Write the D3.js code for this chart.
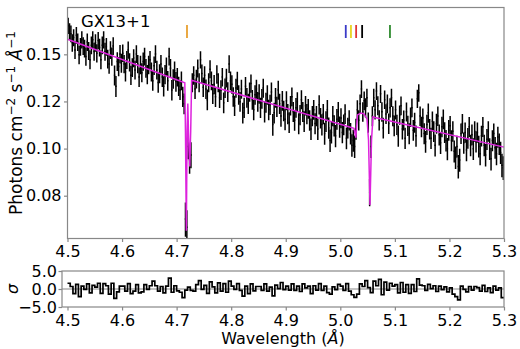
<!DOCTYPE html>
<html>
<head>
<meta charset="utf-8">
<script src="https://cdn.jsdelivr.net/npm/d3@7"></script>
<style>
    body { margin: 0; background: #fff; }
    svg { display: block; font-family: "DejaVu Sans", sans-serif; }
    .frame { fill: none; stroke: #888; stroke-width: 1.2; }
    .axis text { font-size: 16px; fill: #000; font-family: "DejaVu Sans", sans-serif; }
    .axis line { stroke: #888; stroke-width: 1.2; }
    .axis path { display: none; }
</style>
</head>
<body>
<div id="chart"></div>
<script>
/* DATA */
// spectrum bins start at 4.5 A, 0.0025 A wide
const binStart = 4.5
const binWidth = 0.0025
const flux = [
    0.1640, 0.1600, 0.1585, 0.1525, 0.1560, 0.1480, 0.1575, 0.1530, 0.1450, 0.1500,
    0.1545, 0.1505, 0.1490, 0.1440, 0.1530, 0.1475, 0.1420, 0.1510, 0.1545, 0.1470,
    0.1525, 0.1460, 0.1540, 0.1495, 0.1420, 0.1510, 0.1545, 0.1470, 0.1500, 0.1425,
    0.1395, 0.1480, 0.1440, 0.1505, 0.1330, 0.1270, 0.1410, 0.1380, 0.1455, 0.1400,
    0.1460, 0.1395, 0.1350, 0.1420, 0.1480, 0.1405, 0.1330, 0.1375, 0.1430, 0.1360,
    0.1455, 0.1395, 0.1320, 0.1390, 0.1345, 0.1410, 0.1440, 0.1370, 0.1335, 0.1390,
    0.1420, 0.1350, 0.1300, 0.1385, 0.1455, 0.1360, 0.1290, 0.1340, 0.1395, 0.1320,
    0.1270, 0.1335, 0.1380, 0.1300, 0.1440, 0.1370, 0.1250, 0.1310, 0.1355, 0.1295,
    0.1320, 0.1270, 0.1250, 0.1300, 0.1215, 0.1180, 0.0725, 0.0700, 0.0985, 0.0930,
    0.0950, 0.1290, 0.1330, 0.1255, 0.1310, 0.1370, 0.1290, 0.1420, 0.1340, 0.1265,
    0.1330, 0.1255, 0.1200, 0.1290, 0.1365, 0.1300, 0.1230, 0.1280, 0.1215, 0.1335,
    0.1290, 0.1210, 0.1250, 0.1320, 0.1185, 0.1260, 0.1315, 0.1240, 0.1395, 0.1300,
    0.1280, 0.1215, 0.1170, 0.1260, 0.1300, 0.1225, 0.1190, 0.1255, 0.1135, 0.1160,
    0.1270, 0.1210, 0.1180, 0.1240, 0.1285, 0.1200, 0.1150, 0.1225, 0.1255, 0.1190,
    0.1230, 0.1160, 0.1205, 0.1260, 0.1140, 0.1185, 0.1225, 0.1150, 0.1175, 0.1240,
    0.1080, 0.1135, 0.1210, 0.1165, 0.1250, 0.1180, 0.1120, 0.1195, 0.1145, 0.1105,
    0.1195, 0.1130, 0.1090, 0.1170, 0.1215, 0.1140, 0.1100, 0.1160, 0.1190, 0.1085,
    0.1125, 0.1200, 0.1140, 0.1095, 0.1170, 0.1130, 0.1155, 0.1100, 0.1060, 0.1120,
    0.1150, 0.1085, 0.1120, 0.1060, 0.1175, 0.1110, 0.1080, 0.1130, 0.1040, 0.1095,
    0.1150, 0.1065, 0.1010, 0.1045, 0.1120, 0.1075, 0.1030, 0.1105, 0.1140, 0.1070,
    0.1110, 0.1045, 0.1080, 0.1130, 0.1020, 0.1065, 0.1100, 0.1040, 0.0990, 0.1010,
    0.0985, 0.1060, 0.1150, 0.1100, 0.1180, 0.1255, 0.1140, 0.1195, 0.1160, 0.1210,
    0.1090, 0.0812, 0.0985, 0.1120, 0.1210, 0.1150, 0.1245, 0.1170, 0.1100, 0.1230,
    0.1140, 0.1065, 0.1200, 0.1130, 0.1180, 0.1085, 0.1160, 0.1210, 0.1120, 0.1075,
    0.1150, 0.1080, 0.1030, 0.1125, 0.1170, 0.1060, 0.1100, 0.1020, 0.1140, 0.1075,
    0.1040, 0.1115, 0.1160, 0.1055, 0.1090, 0.1030, 0.1205, 0.1235, 0.1120, 0.1070,
    0.1110, 0.1040, 0.1005, 0.1080, 0.1135, 0.1060, 0.1020, 0.1095, 0.1050, 0.0990,
    0.1085, 0.1120, 0.1035, 0.1000, 0.1070, 0.1105, 0.1045, 0.1010, 0.0975, 0.1055,
    0.1075, 0.1010, 0.1050, 0.0965, 0.0940, 0.0985, 0.0905, 0.0930, 0.1040, 0.1085,
    0.1000, 0.1045, 0.0970, 0.1020, 0.1070, 0.0990, 0.1035, 0.0975, 0.1050, 0.1005,
    0.1045, 0.0985, 0.0955, 0.1030, 0.1070, 0.0990, 0.0950, 0.1015, 0.1050, 0.0975,
    0.0935, 0.1010, 0.1040, 0.0980, 0.0955, 0.1025, 0.0995, 0.0960, 0.0910, 0.0900
]
// 1 sigma error, one value per 0.1 A stretch
const fluxErr = [0.0056, 0.0054, 0.0052, 0.0050, 0.0048, 0.0047, 0.0046, 0.0045]
// residuals (sigma), 0.005 A bins
const residWidth = 0.005
const resid = [
    1.6, 0.7, -1.3, 1.3, -2.1, 0.8, -0.1, 1.4, -1.1, 1.0,
    0.5, 1.6, -1.2, 1.5, 0.9, -1.4, 1.6, -2.6, -0.8, 0.8,
    0.8, -0.6, 1.5, -1.3, -0.6, 1.2, -1.1, -0.8, 1.2, -0.1,
    0.9, 2.2, 0.9, -0.6, 0.7, -1.1, 0.8, 3.0, -0.9, 0.9,
    -0.5, -0.9, -2.4, -0.3, 0.5, -0.4, -0.6, 1.2, 2.3, -0.1,
    1.0, -1.2, 2.0, 0.6, -1.1, 1.7, -0.6, 1.5, -0.9, 2.2,
    0.8, -0.1, 1.5, -0.4, -2.0, 0.8, -1.3, 1.4, -0.5, 0.7,
    0.7, -0.4, 1.4, -0.6, 0.5, -1.9, 1.1, 0.1, 1.8, -0.2,
    0.8, -0.3, 1.4, -0.4, 0.8, -0.7, 1.4, 0.3, 0.8, -1.3,
    0.9, -0.3, 1.5, -0.4, 0.8, -1.0, -1.4, 0.6, -0.2, 1.3,
    0.8, -0.4, 1.5, -0.6, -1.6, -2.3, -1.4, 1.4, 0.7, 2.3,
    0.4, -1.0, 2.2, 0.9, 2.7, -1.6, 1.9, -0.3, 1.6, 0.8,
    1.2, -1.1, 1.8, -0.9, 1.2, -1.2, 1.2, -0.7, 2.8, 1.1,
    0.9, -0.4, 1.3, 0.1, 0.9, -0.7, 0.8, -0.2, 0.6, -0.8,
    0.3, -1.4, -2.1, -3.0, 0.8, -0.1, -0.8, 0.7, -0.3, 0.7,
    0.4, -0.6, 1.0, -0.7, 0.3, -1.0, 0.8, -0.3, 0.3, -2.4
]
// best fit model, read at its turning points
const modelWave = [4.500, 4.7150, 4.7162, 4.7178, 4.7192, 4.7205, 4.7220, 4.7240, 4.7258, 4.7275,
    5.0251, 5.0284, 5.0315, 5.0379, 5.0434, 5.0489, 5.0517, 5.0544, 5.0572, 5.0599, 5.0636, 5.300]
const modelFlux = [0.1548, 0.1288, 0.1050, 0.0690, 0.1050, 0.1180, 0.1020, 0.0905, 0.1050, 0.1302,
    0.1063, 0.1022, 0.1125, 0.1134, 0.1130, 0.1106, 0.1012, 0.0769, 0.1012, 0.1116, 0.1113, 0.0982]
// line identifications
const markWave = [4.719, 5.010, 5.0195, 5.029, 5.040, 5.091]
const markColors = ["#e8a030", "#3a3ac8", "#e8d420", "#e03434", "#000000", "#2e8a2e"]

const xTicks = [4.5, 4.6, 4.7, 4.8, 4.9, 5.0, 5.1, 5.2, 5.3]
const yTicks = [0.08, 0.0976, 0.1191, 0.1453]
const residTicks = [-5, 0, 5]

/* LAYOUT */
const W = 520, H = 349
const main = { left: 67.5, right: 504, top: 7.5, bottom: 238.5 }
const sub = { left: 62, right: 504, top: 271, bottom: 307 }
const magenta = "#dd22dd"

const svg = d3.select("#chart")
    .append("svg")
    .attr("width", W)
    .attr("height", H)

svg.append("defs")
    .append("clipPath")
    .attr("id", "main-clip")
    .append("rect")
    .attr("x", main.left)
    .attr("y", main.top)
    .attr("width", main.right - main.left)
    .attr("height", main.bottom - main.top)

/* SCALES */
const x = d3.scaleLinear().domain([4.5, 5.3]).range([main.left, main.right])
const y = d3.scaleLog().domain([0.066777, 0.17706]).range([main.bottom, main.top])
const xr = d3.scaleLinear().domain([x.invert(sub.left), 5.3]).range([sub.left, sub.right])
const yr = d3.scaleLinear().domain([-5, 5]).range([sub.bottom, sub.top])

const bins = flux.map((f, i) => ({
    lo: binStart + i * binWidth,
    hi: binStart + (i + 1) * binWidth,
    mid: binStart + (i + 0.5) * binWidth,
    f: f,
    e: fluxErr[Math.floor(i / 40)]
}))

/* MAIN PANEL */
const gMain = svg.append("g")

// x axis
gMain.append("g")
    .attr("class", "axis")
    .attr("transform", `translate(0, ${main.bottom})`)
    .call(d3.axisBottom(x).tickValues(xTicks).tickFormat(d3.format(".1f")).tickSize(3.5).tickPadding(4))

// y axis
gMain.append("g")
    .attr("class", "axis")
    .attr("transform", `translate(${main.left}, 0)`)
    .call(d3.axisLeft(y).tickValues(yTicks).tickFormat(d3.format(".2f")).tickSize(3.5).tickPadding(2.5))

// spectrum: horizontal bin bars + vertical error bars
const spec = gMain.append("g")
    .attr("clip-path", "url(#main-clip)")
    .attr("stroke", "#000")
    .attr("stroke-width", 1.5)

spec.selectAll(".xbar")
    .data(bins)
    .enter()
    .append("line")
    .attr("x1", d => x(d.lo))
    .attr("x2", d => x(d.hi))
    .attr("y1", d => y(d.f))
    .attr("y2", d => y(d.f))

spec.selectAll(".ybar")
    .data(bins)
    .enter()
    .append("line")
    .attr("x1", d => x(d.mid))
    .attr("x2", d => x(d.mid))
    .attr("y1", d => y(d.f - d.e))
    .attr("y2", d => y(d.f + d.e))

// model
gMain.append("path")
    .datum(d3.zip(modelWave, modelFlux))
    .attr("fill", "none")
    .attr("stroke", magenta)
    .attr("stroke-width", 1.5)
    .attr("d", d3.line().x(d => x(d[0])).y(d => y(d[1])))

// line id marks
gMain.selectAll(".mark")
    .data(markWave)
    .enter()
    .append("line")
    .attr("x1", d => x(d))
    .attr("x2", d => x(d))
    .attr("y1", 25)
    .attr("y2", 38)
    .attr("stroke", (d, i) => markColors[i])
    .attr("stroke-width", 1.8)

gMain.append("rect")
    .attr("class", "frame")
    .attr("x", main.left)
    .attr("y", main.top)
    .attr("width", main.right - main.left)
    .attr("height", main.bottom - main.top)

gMain.append("text")
    .attr("x", 81)
    .attr("y", 27)
    .style("font-size", "16.5px")
    .text("GX13+1")

// y label
const ylab = gMain.append("text")
    .attr("transform", `translate(22, ${(main.top + main.bottom) / 2}) rotate(-90)`)
    .attr("text-anchor", "middle")
    .style("font-size", "17px")
ylab.append("tspan").text("Photons cm")
ylab.append("tspan").attr("dy", -7.5).style("font-size", "12px").text("\u22122")
ylab.append("tspan").attr("dy", 7.5).text(" s")
ylab.append("tspan").attr("dy", -7.5).style("font-size", "12px").text("\u22121")
ylab.append("tspan").attr("dy", 7.5).text(" ")
ylab.append("tspan").style("font-style", "italic").text("\u00c5")
ylab.append("tspan").attr("dy", -7.5).style("font-size", "12px").text("\u22121")

/* RESIDUAL PANEL */
const gSub = svg.append("g")

gSub.append("g")
    .attr("class", "axis")
    .attr("transform", `translate(0, ${sub.bottom})`)
    .call(d3.axisBottom(xr).tickValues(xTicks).tickFormat(d3.format(".1f")).tickSize(3.5).tickPadding(4))

gSub.append("g")
    .attr("class", "axis")
    .attr("transform", `translate(${sub.left}, 0)`)
    .call(d3.axisLeft(yr).tickValues(residTicks).tickFormat(d3.format(".1f")).tickSize(3.5).tickPadding(1.5))

gSub.append("line")
    .attr("x1", sub.left)
    .attr("x2", sub.right)
    .attr("y1", yr(0))
    .attr("y2", yr(0))
    .attr("stroke", "#888")
    .attr("stroke-width", 1.2)

const stepPts = resid.map((r, i) => [binStart + i * residWidth, r])
    .concat([[binStart + resid.length * residWidth, resid[resid.length - 1]]])
gSub.append("path")
    .datum(stepPts)
    .attr("fill", "none")
    .attr("stroke", "#000")
    .attr("stroke-width", 1.7)
    .attr("d", d3.line().curve(d3.curveStepAfter).x(d => xr(d[0])).y(d => yr(d[1])))

gSub.append("rect")
    .attr("class", "frame")
    .attr("x", sub.left)
    .attr("y", sub.top)
    .attr("width", sub.right - sub.left)
    .attr("height", sub.bottom - sub.top)

gSub.append("text")
    .attr("transform", `translate(18, ${(sub.top + sub.bottom) / 2}) rotate(-90)`)
    .attr("text-anchor", "middle")
    .style("font-size", "16px")
    .style("font-style", "italic")
    .text("\u03c3")

// x label
const xlab = svg.append("text")
    .attr("x", (sub.left + sub.right) / 2)
    .attr("y", 344)
    .attr("text-anchor", "middle")
    .style("font-size", "16px")
xlab.append("tspan").text("Wavelength (")
xlab.append("tspan").style("font-style", "italic").text("\u00c5")
xlab.append("tspan").text(")")
</script>
</body>
</html>
